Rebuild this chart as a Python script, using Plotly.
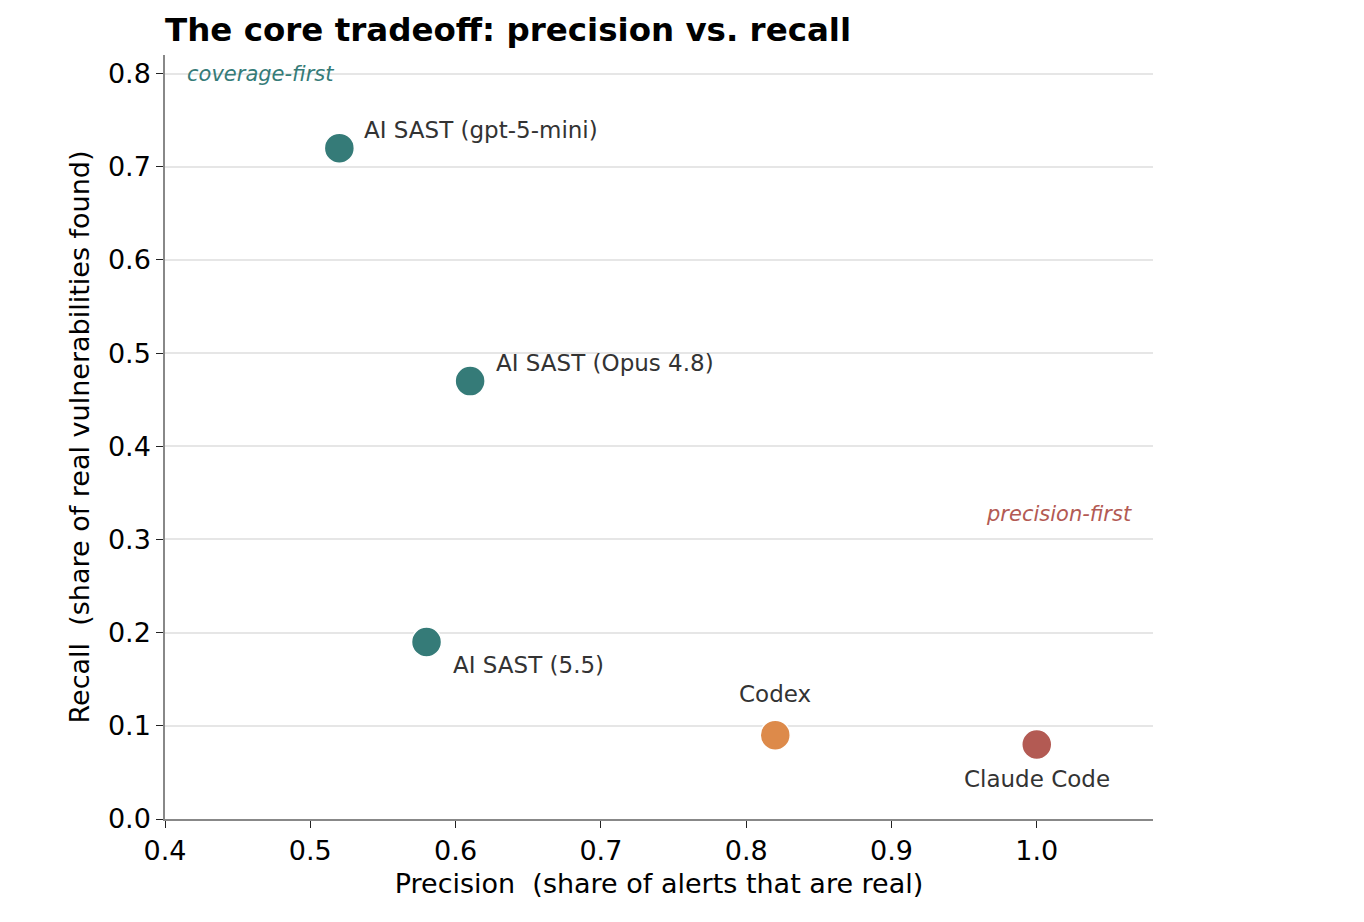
import plotly.graph_objects as go

# data
tools = ["AI SAST (gpt-5-mini)", "AI SAST (Opus 4.8)", "AI SAST (5.5)", "Codex", "Claude Code"]
precision = [0.52, 0.61, 0.58, 0.82, 1.00]
recall = [0.72, 0.47, 0.19, 0.09, 0.08]
colors = ["#357b78", "#357b78", "#357b78", "#dd8a4a", "#b35a53"]

# label offsets in pixels (xshift, yshift, xanchor)
label_pos = [(23, 18, "left"), (24, 18, "left"), (24, -23, "left"),
             (0, 41, "center"), (0, -35, "center")]

FONT = "DejaVu Sans"

fig = go.Figure()
fig.add_trace(go.Scatter(x=precision, y=recall, mode="markers",
                         marker=dict(size=30, color=colors,
                                     line=dict(color="white", width=1.5)),
                         showlegend=False, hoverinfo="text", text=tools))

for name, px, rc, (dx, dy, anc) in zip(tools, precision, recall, label_pos):
    fig.add_annotation(x=px, y=rc, text=name, showarrow=False,
                       xshift=dx, yshift=dy, xanchor=anc, yanchor="middle",
                       font=dict(family=FONT, size=23, color="#333333"))

fig.add_annotation(x=0.414, y=0.8, text="<i>coverage-first</i>", showarrow=False,
                   xanchor="left", yanchor="middle",
                   font=dict(family=FONT, size=21, color="#357b78"))
fig.add_annotation(x=1.067, y=0.327, text="<i>precision-first</i>", showarrow=False,
                   xanchor="right", yanchor="middle",
                   font=dict(family=FONT, size=21, color="#b35a53"))

fig.update_xaxes(range=[0.4, 1.08], tickvals=[0.4, 0.5, 0.6, 0.7, 0.8, 0.9, 1.0],
                 ticktext=["0.4", "0.5", "0.6", "0.7", "0.8", "0.9", "1.0"],
                 showgrid=False, zeroline=False, showline=True, linecolor="#888888",
                 linewidth=1.5, ticks="outside", ticklen=7, tickcolor="#222222",
                 tickfont=dict(family=FONT, size=27, color="black"),
                 title=dict(text="Precision  (share of alerts that are real)",
                            font=dict(family=FONT, size=27, color="black"), standoff=9))
fig.update_yaxes(range=[0, 0.82], tickvals=[0, 0.1, 0.2, 0.3, 0.4, 0.5, 0.6, 0.7, 0.8],
                 ticktext=["0.0", "0.1", "0.2", "0.3", "0.4", "0.5", "0.6", "0.7", "0.8"],
                 showgrid=True, gridcolor="#e6e6e6", gridwidth=1.5, zeroline=False,
                 showline=True, linecolor="#888888", linewidth=1.5,
                 ticks="outside", ticklen=7, tickcolor="#222222",
                 tickfont=dict(family=FONT, size=27, color="black"),
                 title=dict(text="Recall  (share of real vulnerabilities found)",
                            font=dict(family=FONT, size=27, color="black"), standoff=10))

fig.update_layout(
    width=1364, height=922,
    plot_bgcolor="white", paper_bgcolor="white",
    margin=dict(l=157, r=219, t=47, b=111),
    title=dict(text="<b>The core tradeoff: precision vs. recall</b>",
               x=157 / 1364, xanchor="left", y=1 - 22 / 922, yanchor="middle",
               font=dict(family=FONT, size=32.5, color="black")),
)

fig.write_html("out.html")
